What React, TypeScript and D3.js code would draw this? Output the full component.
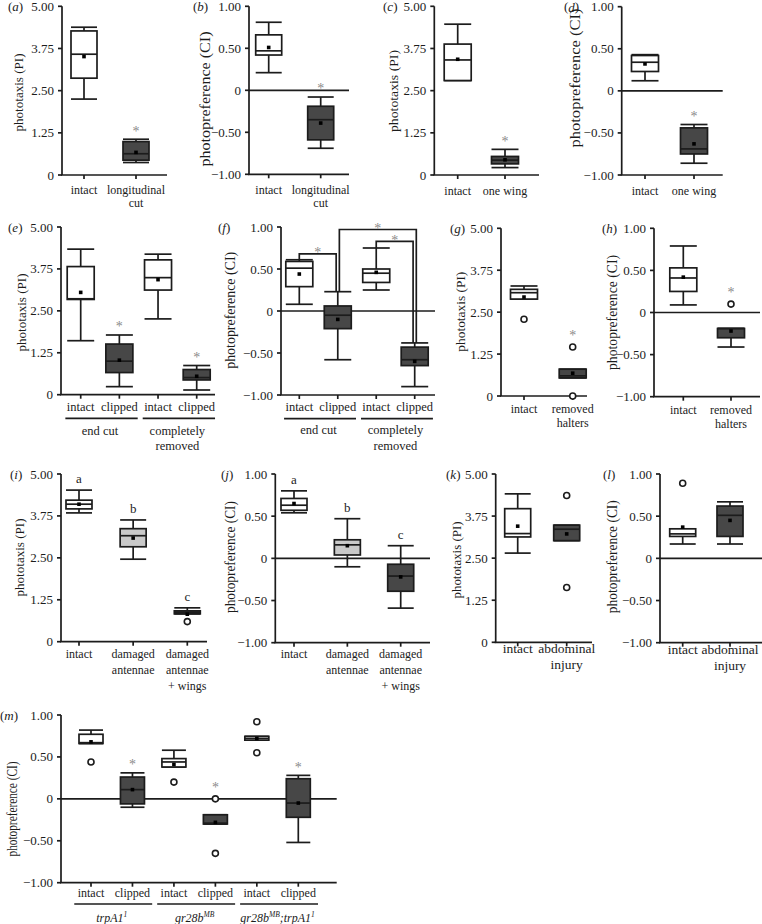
import React from "react";
import * as d3 from "d3";

type Box = { min: number; q1: number; med: number; q3: number; max: number; mean: number; out?: number[]; star?: boolean; letter?: string };

// ---------- data ----------
const piTicks = [0, 1.25, 2.5, 3.75, 5];
const ciTicks = [-1, -0.5, 0, 0.5, 1];

const catsA = ["intact", "longitudinal\ncut"];
const boxesA: Box[] = [
  { min: 2.25, q1: 2.87, med: 3.58, q3: 4.27, max: 4.38, mean: 3.51 },
  { min: 0.37, q1: 0.44, med: 0.63, q3: 0.99, max: 1.06, mean: 0.67, star: true },
];

const catsB = ["intact", "longitudinal\ncut"];
const boxesB: Box[] = [
  { min: 0.21, q1: 0.42, med: 0.47, q3: 0.66, max: 0.81, mean: 0.51 },
  { min: -0.69, q1: -0.59, med: -0.35, q3: -0.19, max: -0.08, mean: -0.39, star: true },
];

const catsC = ["intact", "one wing"];
const boxesC: Box[] = [
  { min: 2.8, q1: 2.8, med: 3.41, q3: 3.88, max: 4.47, mean: 3.43 },
  { min: 0.22, q1: 0.33, med: 0.44, q3: 0.55, max: 0.76, mean: 0.45, star: true },
];

const catsD = ["intact", "one wing"];
const boxesD: Box[] = [
  { min: 0.12, q1: 0.23, med: 0.34, q3: 0.42, max: 0.43, mean: 0.32 },
  { min: -0.86, q1: -0.75, med: -0.69, q3: -0.44, max: -0.4, mean: -0.63, star: true },
];

const catsE = ["intact", "clipped", "intact", "clipped"];
const boxesE: Box[] = [
  { min: 1.61, q1: 2.84, med: 2.86, q3: 3.82, max: 4.34, mean: 3.05 },
  { min: 0.24, q1: 0.66, med: 1.0, q3: 1.51, max: 1.78, mean: 1.03, star: true },
  { min: 2.26, q1: 3.12, med: 3.49, q3: 4.02, max: 4.19, mean: 3.43 },
  { min: 0.14, q1: 0.44, med: 0.51, q3: 0.75, max: 0.87, mean: 0.55, star: true },
];
const groupsEF = [
  { label: "end cut", from: 0, to: 1 },
  { label: "completely\nremoved", from: 2, to: 3 },
];

const catsF = ["intact", "clipped", "intact", "clipped"];
const boxesF: Box[] = [
  { min: 0.08, q1: 0.29, med: 0.51, q3: 0.59, max: 0.61, mean: 0.44 },
  { min: -0.58, q1: -0.21, med: -0.05, q3: 0.06, max: 0.23, mean: -0.1 },
  { min: 0.25, q1: 0.34, med: 0.45, q3: 0.5, max: 0.75, mean: 0.46 },
  { min: -0.9, q1: -0.65, med: -0.58, q3: -0.43, max: -0.38, mean: -0.6 },
];
const bracketsF = [
  { from: 0, to: 1, level: 0.68 },
  { from: 1, to: 3, level: 0.97 },
  { from: 2, to: 3, level: 0.83 },
];

const catsG = ["intact", "removed\nhalters"];
const boxesG: Box[] = [
  { min: 2.89, q1: 2.89, med: 3.08, q3: 3.18, max: 3.28, mean: 2.95, out: [2.29] },
  { min: 0.54, q1: 0.54, med: 0.6, q3: 0.8, max: 0.8, mean: 0.68, out: [1.46, 0], star: true },
];

const catsH = ["intact", "removed\nhalters"];
const boxesH: Box[] = [
  { min: 0.09, q1: 0.25, med: 0.41, q3: 0.53, max: 0.79, mean: 0.42 },
  { min: -0.41, q1: -0.3, med: -0.19, q3: -0.19, max: -0.19, mean: -0.22, out: [0.1], star: true },
];

const catsI = ["intact", "damaged\nantennae", "damaged\nantennae\n+ wings"];
const boxesI: Box[] = [
  { min: 3.84, q1: 3.96, med: 4.1, q3: 4.22, max: 4.52, mean: 4.1, letter: "a" },
  { min: 2.46, q1: 2.83, med: 3.16, q3: 3.37, max: 3.63, mean: 3.09, letter: "b" },
  { min: 0.83, q1: 0.83, med: 0.88, q3: 0.92, max: 1.01, mean: 0.82, out: [0.6], letter: "c" },
];

const catsJ = ["intact", "damaged\nantennae", "damaged\nantennae\n+ wings"];
const boxesJ: Box[] = [
  { min: 0.54, q1: 0.57, med: 0.63, q3: 0.71, max: 0.8, mean: 0.65, letter: "a" },
  { min: -0.1, q1: 0.04, med: 0.16, q3: 0.22, max: 0.47, mean: 0.15, letter: "b" },
  { min: -0.59, q1: -0.39, med: -0.21, q3: -0.07, max: 0.15, mean: -0.22, letter: "c" },
];

const catsK = ["intact", "abdominal\ninjury"];
const boxesK: Box[] = [
  { min: 2.65, q1: 3.13, med: 3.23, q3: 3.97, max: 4.41, mean: 3.45 },
  { min: 3.02, q1: 3.02, med: 3.36, q3: 3.48, max: 3.48, mean: 3.22, out: [4.36, 1.63] },
];

const catsL = ["intact", "abdominal\ninjury"];
const boxesL: Box[] = [
  { min: 0.17, q1: 0.26, med: 0.29, q3: 0.35, max: 0.35, mean: 0.37, out: [0.89] },
  { min: 0.17, q1: 0.26, med: 0.51, q3: 0.62, max: 0.67, mean: 0.45 },
];

const catsM = ["intact", "clipped", "intact", "clipped", "intact", "clipped"];
const boxesM: Box[] = [
  { min: 0.66, q1: 0.66, med: 0.67, q3: 0.77, max: 0.82, mean: 0.68, out: [0.44] },
  { min: -0.1, q1: -0.06, med: 0.11, q3: 0.26, max: 0.31, mean: 0.11, star: true },
  { min: 0.38, q1: 0.38, med: 0.44, q3: 0.48, max: 0.58, mean: 0.41, out: [0.2] },
  { min: -0.3, q1: -0.3, med: -0.29, q3: -0.19, max: -0.19, mean: -0.28, out: [0, -0.65], star: true },
  { min: 0.7, q1: 0.7, med: 0.72, q3: 0.745, max: 0.745, mean: 0.72, out: [0.92, 0.55] },
  { min: -0.52, q1: -0.22, med: -0.05, q3: 0.24, max: 0.28, mean: -0.05, star: true },
];
const groupsM = [
  { label: [["trpA1", false], ["1", true]] as [string, boolean][], from: 0, to: 1 },
  { label: [["gr28b", false], ["MB", true]] as [string, boolean][], from: 2, to: 3 },
  { label: [["gr28b", false], ["MB", true], [";trpA1", false], ["1", true]] as [string, boolean][], from: 4, to: 5 },
];

// ---------- layout ----------
type Panel = {
  id: string; kind: "PI" | "CI"; cats: string[]; boxes: Box[];
  x0: number; x1: number; yTop: number; yBot: number; c0: number; c1: number; boxW: number;
  tagX: number; yl: [number, number, number]; catFont: number; catGap: number; catLH: number;
  groups?: any[]; gLine?: number; gGap?: number; gLH?: number; gItalic?: boolean;
  brackets?: { from: number; to: number; level: number }[];
};

const panels: Panel[] = [
  { id: "a", kind: "PI", cats: catsA, boxes: boxesA, x0: 62, x1: 167, yTop: 6.3, yBot: 175, c0: 84, c1: 136, boxW: 26, tagX: 8, yl: [18, 92.5, 78], catFont: 12, catGap: 15, catLH: 12.7 },
  { id: "b", kind: "CI", cats: catsB, boxes: boxesB, x0: 249, x1: 349, yTop: 6.3, yBot: 174.3, c0: 268.7, c1: 320.7, boxW: 26, tagX: 193, yl: [205.7, 99, 135], catFont: 12, catGap: 16, catLH: 12.7 },
  { id: "c", kind: "PI", cats: catsC, boxes: boxesC, x0: 434.3, x1: 539, yTop: 6.3, yBot: 175, c0: 457.7, c1: 505, boxW: 27, tagX: 383, yl: [393, 91, 82], catFont: 12, catGap: 16, catLH: 12.7 },
  { id: "d", kind: "CI", cats: catsD, boxes: boxesD, x0: 621.7, x1: 722.7, yTop: 6.7, yBot: 175, c0: 645, c1: 694, boxW: 27, tagX: 564, yl: [575, 78, 139], catFont: 12, catGap: 16, catLH: 12.7 },
  { id: "e", kind: "PI", cats: catsE, boxes: boxesE, x0: 61, x1: 215, yTop: 227, yBot: 394.7, c0: 80.7, c1: 196.7, boxW: 27, tagX: 8, yl: [21.7, 312.5, 78], catFont: 12.5, catGap: 12.3, catLH: 15, groups: groupsEF, gLine: 23.6, gGap: 36, gLH: 15.7 },
  { id: "f", kind: "CI", cats: catsF, boxes: boxesF, x0: 281, x1: 435, yTop: 227, yBot: 395, c0: 299.3, c1: 414.7, boxW: 27, tagX: 218, yl: [230.5, 310.3, 117], catFont: 12.5, catGap: 12.3, catLH: 15, groups: groupsEF, gLine: 23.6, gGap: 35, gLH: 15.7, brackets: bracketsF },
  { id: "g", kind: "PI", cats: catsG, boxes: boxesG, x0: 501, x1: 587, yTop: 228.3, yBot: 396, c0: 524, c1: 572.7, boxW: 27, tagX: 450, yl: [460, 311.7, 80], catFont: 12, catGap: 13, catLH: 14 },
  { id: "h", kind: "CI", cats: catsH, boxes: boxesH, x0: 654, x1: 760, yTop: 228.3, yBot: 396.7, c0: 683.3, c1: 731, boxW: 27, tagX: 602, yl: [612, 312.5, 115], catFont: 12, catGap: 13, catLH: 14 },
  { id: "i", kind: "PI", cats: catsI, boxes: boxesI, x0: 61, x1: 207, yTop: 474, yBot: 641.7, c0: 79, c1: 187.3, boxW: 26, tagX: 10, yl: [19, 557.5, 78], catFont: 12, catGap: 12.3, catLH: 16 },
  { id: "j", kind: "CI", cats: catsJ, boxes: boxesJ, x0: 275.3, x1: 430, yTop: 474, yBot: 642.7, c0: 294, c1: 400.7, boxW: 26, tagX: 221, yl: [230.5, 557, 112], catFont: 12, catGap: 11.5, catLH: 16 },
  { id: "k", kind: "PI", cats: catsK, boxes: boxesK, x0: 495.7, x1: 592, yTop: 474, yBot: 642.3, c0: 517.7, c1: 566.7, boxW: 26, tagX: 446, yl: [456.7, 560, 77], catFont: 13.5, catGap: 6.5, catLH: 16 },
  { id: "l", kind: "CI", cats: catsL, boxes: boxesL, x0: 660, x1: 762, yTop: 474, yBot: 642.7, c0: 682.7, c1: 730, boxW: 26, tagX: 603, yl: [612, 556.7, 113], catFont: 13.5, catGap: 6.5, catLH: 16 },
  { id: "m", kind: "CI", cats: catsM, boxes: boxesM, x0: 61, x1: 336.7, yTop: 715, yBot: 882.7, c0: 91, c1: 298.3, boxW: 24, tagX: 0, yl: [12.5, 809, 95], catFont: 12, catGap: 10.6, catLH: 14, groups: groupsM, gLine: 21.3, gGap: 35.6, gLH: 14, gItalic: true },
];

const FONT = "'Liberation Serif', 'Times New Roman', serif";
const INK = "#1c1c1c";
const DARK = "#474747";
const LIGHT = "#c9c9c9";
const STARC = "#8a8a8a";
const SW = 1.7;

function fillFor(cat: string) {
  const c = cat.replace(/\n/g, " ");
  if (c.startsWith("intact")) return "#ffffff";
  if (c === "damaged antennae") return LIGHT;
  return DARK;
}

function fmt(v: number, kind: string) {
  if (v === 0) return "0";
  const s = Math.abs(v).toFixed(2);
  return v < 0 ? "\u2212" + s : s;
}

function PanelView({ p }: { p: Panel }) {
  const y = d3.scaleLinear().domain(p.kind === "PI" ? [0, 5] : [-1, 1]).range([p.yBot, p.yTop]);
  const x = d3.scalePoint<string>().domain(p.cats.map((_, i) => String(i))).range([p.c0, p.c1]);
  const xi = (i: number) => x(String(i)) as number;
  const ticks = p.kind === "PI" ? piTicks : ciTicks;
  const step = p.cats.length > 1 ? xi(1) - xi(0) : 40;
  const w = p.boxW;

  return (
    <g>
      {/* panel tag */}
      <text x={p.tagX} y={p.yTop} dominantBaseline="central" fontSize={13} fontFamily={FONT} fill={INK}>
        (<tspan fontStyle="italic">{p.id}</tspan>)
      </text>
      {/* y label */}
      <text
        transform={`translate(${p.yl[0]},${p.yl[1]}) rotate(-90)`}
        textAnchor="middle"
        dominantBaseline="central"
        fontSize={p.kind === "PI" ? 13 : 14}
        fontFamily={FONT}
        fill={INK}
        textLength={p.yl[2]}
        lengthAdjust="spacingAndGlyphs"
      >
        {p.kind === "PI" ? "phototaxis (PI)" : "photopreference (CI)"}
      </text>
      {/* y axis */}
      <line x1={p.x0} x2={p.x0} y1={y(ticks[ticks.length - 1])} y2={y(ticks[0])} stroke={INK} strokeWidth={SW} />
      {ticks.map((t) => (
        <g key={t}>
          <line x1={p.x0 - 4} x2={p.x0} y1={y(t)} y2={y(t)} stroke={INK} strokeWidth={SW} />
          <text x={p.x0 - 8} y={y(t)} textAnchor="end" dominantBaseline="central" fontSize={13} fontFamily={FONT} fill={INK}>
            {fmt(t, p.kind)}
          </text>
        </g>
      ))}
      {/* x axis */}
      <line x1={p.x0 - 1} x2={p.x1} y1={p.yBot} y2={p.yBot} stroke={INK} strokeWidth={SW} />
      {p.kind === "CI" && <line x1={p.x0} x2={p.x1} y1={y(0)} y2={y(0)} stroke={INK} strokeWidth={SW} />}
      {p.cats.map((c, i) => (
        <g key={"c" + i}>
          <line x1={xi(i)} x2={xi(i)} y1={p.yBot} y2={p.yBot + 4} stroke={INK} strokeWidth={SW} />
          {c.split("\n").map((ln, k) => (
            <text key={k} x={xi(i)} y={p.yBot + p.catGap + k * p.catLH} textAnchor="middle" dominantBaseline="central" fontSize={p.catFont} fontFamily={FONT} fill={INK}>
              {ln}
            </text>
          ))}
        </g>
      ))}
      {/* groups */}
      {p.groups &&
        p.groups.map((g: any, gi: number) => {
          const a = xi(g.from) - step / 2 + 4;
          const b = xi(g.to) + step / 2 - 1;
          const cx = (xi(g.from) + xi(g.to)) / 2;
          return (
            <g key={"g" + gi}>
              <line x1={a} x2={b} y1={p.yBot + (p.gLine as number)} y2={p.yBot + (p.gLine as number)} stroke={INK} strokeWidth={SW} />
              {typeof g.label === "string" ? (
                g.label.split("\n").map((ln: string, k: number) => (
                  <text key={k} x={cx} y={p.yBot + (p.gGap as number) + k * (p.gLH as number)} textAnchor="middle" dominantBaseline="central" fontSize={p.catFont} fontFamily={FONT} fill={INK}>
                    {ln}
                  </text>
                ))
              ) : (
                <text x={cx} y={p.yBot + (p.gGap as number) + 3.5} textAnchor="middle" fontSize={p.catFont} fontStyle="italic" fontFamily={FONT} fill={INK}>
                  {g.label.map((seg: [string, boolean], k: number) =>
                    seg[1] ? (
                      <tspan key={k} fontSize={7.5} dy={-5}>{seg[0]}</tspan>
                    ) : (
                      <tspan key={k} dy={k > 0 ? 5 : 0}>{seg[0]}</tspan>
                    )
                  )}
                </text>
              )}
            </g>
          );
        })}
      {/* boxes */}
      {p.boxes.map((b, i) => {
        const cx = xi(i);
        const fill = fillFor(p.cats[i]);
        const tops = [y(b.max), ...(b.out || []).map((o) => y(o) - 3)];
        const top = Math.min(...tops);
        return (
          <g key={"b" + i}>
            {b.max > b.q3 && <line x1={cx} x2={cx} y1={y(b.max)} y2={y(b.q3)} stroke={INK} strokeWidth={SW} />}
            {b.min < b.q1 && <line x1={cx} x2={cx} y1={y(b.q1)} y2={y(b.min)} stroke={INK} strokeWidth={SW} />}
            <line x1={cx - w / 2} x2={cx + w / 2} y1={y(b.max)} y2={y(b.max)} stroke={INK} strokeWidth={SW} />
            <line x1={cx - w / 2} x2={cx + w / 2} y1={y(b.min)} y2={y(b.min)} stroke={INK} strokeWidth={SW} />
            <rect x={cx - w / 2} y={y(b.q3)} width={w} height={Math.max(0.5, y(b.q1) - y(b.q3))} fill={fill} stroke={INK} strokeWidth={SW} />
            <line x1={cx - w / 2} x2={cx + w / 2} y1={y(b.med)} y2={y(b.med)} stroke={INK} strokeWidth={SW} />
            <rect x={cx - 1.8} y={y(b.mean) - 1.8} width={3.6} height={3.6} fill="#000" />
            {(b.out || []).map((o, k) => (
              <circle key={k} cx={cx} cy={y(o)} r={3} fill="#fff" stroke={INK} strokeWidth={1.6} />
            ))}
            {b.star && (
              <text x={cx} y={top - 11 + 7.4} textAnchor="middle" fontSize={14} fontFamily={FONT} fill={STARC}>
                *
              </text>
            )}
            {b.letter && (
              <text x={cx} y={top - 11 + 4} textAnchor="middle" fontSize={13} fontFamily={FONT} fill={INK}>
                {b.letter}
              </text>
            )}
          </g>
        );
      })}
      {/* brackets */}
      {p.brackets &&
        p.brackets.map((br, k) => {
          const shared = (idx: number) => p.brackets!.filter((o) => o !== br && (o.from === idx || o.to === idx));
          const off = (idx: number, side: number) => {
            const others = shared(idx);
            if (!others.length) return 0;
            const span = br.to - br.from;
            const longer = others.every((o) => o.to - o.from < span);
            return longer ? 1.6 : -1.6 * (side === 0 ? -1 : 1) * 0 - 1.6;
          };
          const xa = xi(br.from) + off(br.from, 0);
          const xb = xi(br.to) + off(br.to, 1);
          const yl = y(br.level);
          const ya = y(p.boxes[br.from].max);
          const yb = y(p.boxes[br.to].max);
          return (
            <g key={"br" + k}>
              <path d={`M${xa},${ya} V${yl} H${xb} V${yb}`} fill="none" stroke={INK} strokeWidth={SW} />
              <text x={(xa + xb) / 2} y={yl - 4 + 7.4} textAnchor="middle" fontSize={14} fontFamily={FONT} fill={STARC}>
                *
              </text>
            </g>
          );
        })}
    </g>
  );
}

export default function App() {
  return (
    <svg width={762} height={924} viewBox="0 0 762 924" style={{ position: "absolute", left: 0, top: 0, background: "#fff" }}>
      <rect width={762} height={924} fill="#fff" />
      {panels.map((p) => (
        <PanelView key={p.id} p={p} />
      ))}
    </svg>
  );
}
